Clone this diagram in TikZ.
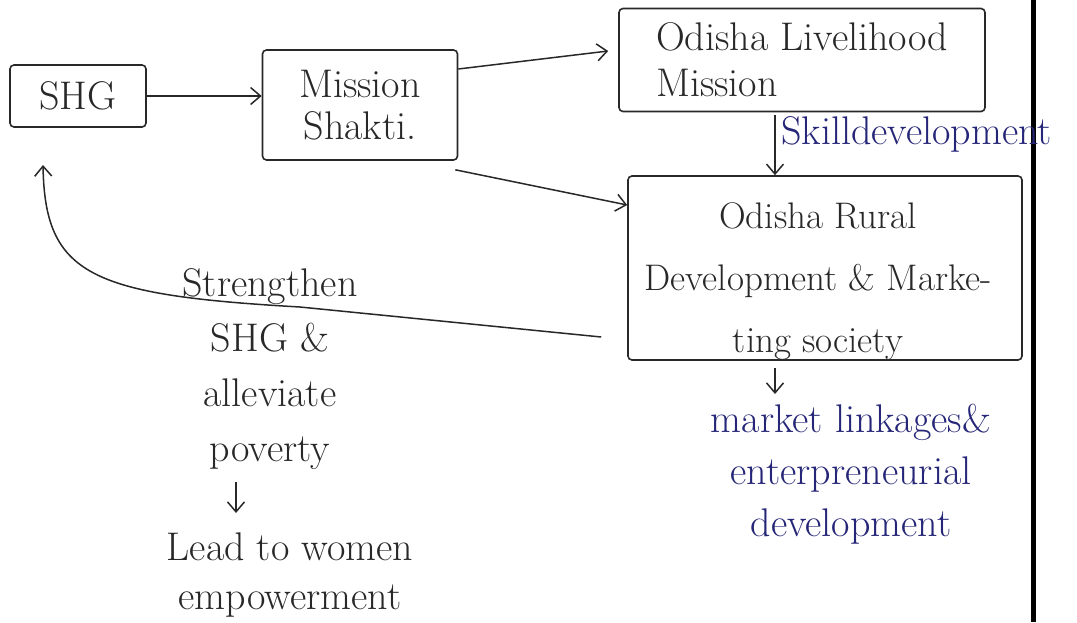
\documentclass[tikz,border=0pt]{standalone}
\usetikzlibrary{arrows.meta}
\definecolor{ink}{RGB}{40,40,40}
\definecolor{blueink}{RGB}{38,38,120}
\begin{document}
\begin{tikzpicture}[x=1pt,y=-1pt,
  every node/.style={font=\fontsize{40}{48}\selectfont, text=ink},
  box/.style={draw=ink, line width=1.6pt, rounded corners=4pt, inner sep=0pt, align=center},
  arr/.style={draw=ink, line width=1.5pt, -{Straight Barb[length=10pt,width=17pt]}},
  txt/.style={inner sep=0pt, align=center, anchor=north}
]
\useasboundingbox (0,0) rectangle (1077,622);
\fill[white] (0,0) rectangle (1077,622);
\draw[line width=5pt, black] (1033,0) -- (1033,622);

\node[box, minimum width=136pt, minimum height=62pt] (shg) at (78,96) {SHG};
\node[box, minimum width=195pt, minimum height=110pt, font=\fontsize{40}{42}\selectfont] (ms) at (360,105) {Mission\\Shakti.};
\node[box, minimum width=366pt, minimum height=103pt, align=left, font=\fontsize{40}{46}\selectfont] (olm) at (802,60) {Odisha Livelihood\\Mission};
\node[box, minimum width=394pt, minimum height=184pt] (ordms) at (825,268) {};
\node[txt, font=\fontsize{37}{62}\selectfont] (ordmst) at (818,202) {Odisha Rural\\Development \& Marke-\\ting society};

\node[text=blueink, anchor=base west, inner sep=0pt] (skill) at (781,144) {Skilldevelopment};
\node[txt, text=blueink, font=\fontsize{40}{52}\selectfont] (mkt) at (851,404) {market linkages\&\\enterpreneurial\\development};
\node[txt, font=\fontsize{40}{55}\selectfont] (str) at (270,268) {Strengthen\\SHG \&\\alleviate\\poverty};
\node[txt, font=\fontsize{40}{49}\selectfont] (lead) at (290,533) {Lead to women\\empowerment};

\coordinate (sx) at (775,0);
\coordinate (ax) at (236,0);
\coordinate (fb) at (43,165);
\coordinate (mtop) at ([yshift=10pt]mkt.north);
\coordinate (msa) at ([yshift=36pt]ms.east);
\coordinate (olma) at ([xshift=-10pt,yshift=9pt]olm.west);
\coordinate (msb) at ([shift={(-3pt,-9pt)}]ms.south east);
\coordinate (ordmsa) at ([yshift=63pt]ordms.west);
\coordinate (ordmsb) at ([shift={(-26pt,-69pt)}]ordms.west);

\draw[arr] (shg.east) -- (shg.east -| ms.west);
\draw[arr] (msa) -- (olma);
\draw[arr] (msb) -- (ordmsa);
\draw[arr, shorten <=3pt] (olm.south -| sx) -- (ordms.north -| sx);
\draw[arr, shorten <=7pt] (ordms.south -| sx) -- (mtop -| sx);
\draw[arr, shorten <=13pt, shorten >=20pt] (str.south -| ax) -- (lead.north -| ax);
\draw[arr] (ordmsb) -- (300,307) .. controls (90,295) and (45,275) .. (fb);
\end{tikzpicture}
\end{document}
